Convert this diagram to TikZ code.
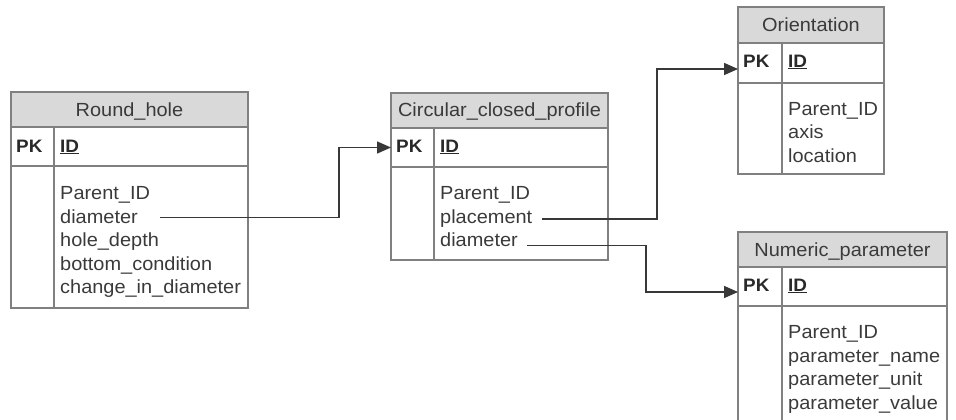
\documentclass[tikz,border=0pt]{standalone}
\usepackage{fontspec}
\setmainfont{Liberation Sans}[FakeStretch=1.05]
\usetikzlibrary{arrows.meta}
\definecolor{txt}{HTML}{3A3A3A}
\definecolor{bord}{HTML}{808080}
\definecolor{head}{HTML}{D9D9D9}
\definecolor{conn}{HTML}{383838}
\begin{document}
\begin{tikzpicture}[x=1pt,y=-1pt,
  cell/.style={draw=bord, line width=1.2pt, inner sep=0pt, outer sep=0pt, anchor=north west},
  titlecell/.style={cell, fill=head},
  divider/.style={draw=bord, line width=1.2pt},
  attr/.style={anchor=base west, inner sep=0pt, text=txt, font=\fontsize{19}{23}\selectfont},
  ttl/.style={anchor=base, inner sep=0pt, text=txt, font=\fontsize{19}{23}\selectfont},
  key/.style={anchor=base west, inner sep=0pt, text=txt!70!black, font=\fontsize{18}{22}\selectfont\bfseries},
  link/.style={draw=conn, line width=1.5pt, -{Triangle[length=14pt,width=12pt]}}]
\useasboundingbox (0,0) rectangle (956,420);

% ---------- Round_hole ----------
\node[titlecell, minimum width=237pt, minimum height=35pt] (rh) at (11,92) {};
\node[cell, minimum width=237pt, minimum height=39pt] (rh-pk) at (rh.south west) {};
\node[cell, minimum width=237pt, minimum height=142pt] (rh-body) at (rh-pk.south west) {};
\draw[divider] ([xshift=43pt]rh-pk.north west) -- ([xshift=43pt]rh-body.south west);
\node[ttl] (rh-t) at (129.5,116.3) {Round\_hole};
\node[key] (rh-k) at (16,152) {PK};
\node[key] (rh-id) at (60,152) {\underline{ID}};
\node[attr] (rh-a1) at (60,199.5) {Parent\_ID};
\node[attr] (rh-a2) at (60,223) {diameter};
\node[attr] (rh-a3) at (60,246.5) {hole\_depth};
\node[attr] (rh-a4) at (60,270) {bottom\_condition};
\node[attr] (rh-a5) at (60,293.5) {change\_in\_diameter};

% ---------- Circular_closed_profile ----------
\node[titlecell, minimum width=217pt, minimum height=35pt] (cc) at (391,93) {};
\node[cell, minimum width=217pt, minimum height=39pt] (cc-pk) at (cc.south west) {};
\node[cell, minimum width=217pt, minimum height=93pt] (cc-body) at (cc-pk.south west) {};
\draw[divider] ([xshift=43pt]cc-pk.north west) -- ([xshift=43pt]cc-body.south west);
\node[ttl] (cc-t) at (499.5,116.8) {Circular\_closed\_profile};
\node[key] (cc-k) at (396,152) {PK};
\node[key] (cc-id) at (440,152) {\underline{ID}};
\node[attr] (cc-a1) at (440,199.5) {Parent\_ID};
\node[attr] (cc-a2) at (440,223) {placement};
\node[attr] (cc-a3) at (440,246.5) {diameter};

% ---------- Orientation ----------
\node[titlecell, minimum width=146pt, minimum height=36pt] (or) at (738,7) {};
\node[cell, minimum width=146pt, minimum height=40pt] (or-pk) at (or.south west) {};
\node[cell, minimum width=146pt, minimum height=91pt] (or-body) at (or-pk.south west) {};
\draw[divider] ([xshift=44pt]or-pk.north west) -- ([xshift=44pt]or-body.south west);
\node[ttl] (or-t) at (811,31.8) {Orientation};
\node[key] (or-k) at (743,67) {PK};
\node[key] (or-id) at (788,67) {\underline{ID}};
\node[attr] (or-a1) at (788,115) {Parent\_ID};
\node[attr] (or-a2) at (788,138.5) {axis};
\node[attr] (or-a3) at (788,162) {location};

% ---------- Numeric_parameter ----------
\node[titlecell, minimum width=209pt, minimum height=35pt] (np) at (738,232) {};
\node[cell, minimum width=209pt, minimum height=39pt] (np-pk) at (np.south west) {};
\node[cell, minimum width=209pt, minimum height=124pt] (np-body) at (np-pk.south west) {};
\draw[divider] ([xshift=44pt]np-pk.north west) -- ([xshift=44pt]np-body.south west);
\node[ttl] (np-t) at (842.5,256.3) {Numeric\_parameter};
\node[key] (np-k) at (743,291) {PK};
\node[key] (np-id) at (788,291) {\underline{ID}};
\node[attr] (np-a1) at (788,338.5) {Parent\_ID};
\node[attr] (np-a2) at (788,362) {parameter\_name};
\node[attr] (np-a3) at (788,385.5) {parameter\_unit};
\node[attr] (np-a4) at (788,409) {parameter\_value};

% ---------- connectors ----------
\coordinate (s1) at (160,217.7);
\coordinate (s2) at (542,219);
\coordinate (s3) at (527,245.7);
\draw[link] (s1) -- ++(179,0) |- (cc-pk.west);
\draw[link] (s2) -- ++(115,0) |- ([yshift=-6pt]or-pk.west);
\draw[link] (s3) -- ++(119,0) |- ([yshift=-5.5pt]np-pk.west);
\end{tikzpicture}
\end{document}
